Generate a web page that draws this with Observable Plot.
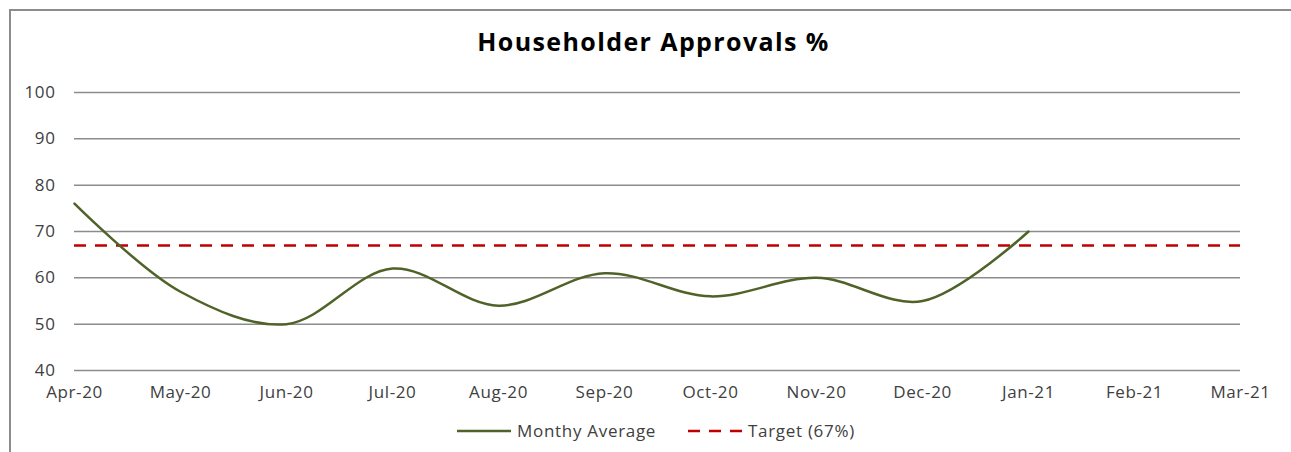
<!DOCTYPE html>
<html>
<head>
<meta charset="utf-8">
<script src="https://cdn.jsdelivr.net/npm/d3@7"></script>
<script src="https://cdn.jsdelivr.net/npm/@observablehq/plot@0.6"></script>
<style>
  html, body { margin: 0; padding: 0; background: #fff; }
  body { width: 1291px; height: 452px; position: relative; overflow: hidden; font-family: "Open Sans", sans-serif; }
  #frame { position: absolute; left: 9px; top: 9px; width: 1300px; height: 500px; border-left: 2px solid #8c8c8c; border-top: 2px solid #8c8c8c; }
  #title { position: absolute; left: 8px; width: 1291px; top: 24px; text-align: center; font-size: 25px; letter-spacing: 1.4px; font-weight: bold; color: #000; }
  #chart { position: absolute; left: 0; top: 0; }
  .legend { position: absolute; top: 419px; font-size: 17px; letter-spacing: 0.7px; color: #404040; display: flex; align-items: center; white-space: nowrap; }
  .legend svg { margin-right: 6px; }
</style>
</head>
<body>
<div id="frame"></div>
<div id="title">Householder Approvals %</div>
<div id="chart"></div>
<div class="legend" style="left:457px"><svg width="54" height="6"><line x1="0" x2="54" y1="3" y2="3" stroke="#4F6228" stroke-width="2.5"/></svg>Monthy Average</div>
<div class="legend" style="left:688px"><svg width="54" height="6"><line x1="0" x2="54" y1="3" y2="3" stroke="#C00000" stroke-width="2.5" stroke-dasharray="12,9"/></svg>Target (67%)</div>
<script>
const months = ["Apr-20","May-20","Jun-20","Jul-20","Aug-20","Sep-20","Oct-20","Nov-20","Dec-20","Jan-21","Feb-21","Mar-21"];
const monthlyAverage = [76, 57, 50, 62, 54, 61, 56, 60, 55, 70];
const target = 67;
const yTicks = [40, 50, 60, 70, 80, 90, 100];

const lineData = monthlyAverage.map((v, i) => ({month: months[i], value: v}));

const chart = Plot.plot({
  width: 1291,
  height: 410,
  marginTop: 92,
  marginBottom: 40,
  marginLeft: 74,
  marginRight: 51,
  style: {fontFamily: "'Open Sans', sans-serif", fontSize: "17px", letterSpacing: "0.6px", color: "#404040", background: "transparent", overflow: "visible"},
  x: {type: "point", domain: months, padding: 0, label: null},
  y: {domain: [40, 100], label: null},
  marks: [
    Plot.gridY(yTicks, {stroke: "#8c8c8c", strokeOpacity: 1, strokeWidth: 1.5}),
    Plot.ruleY([target], {stroke: "#C00000", strokeWidth: 2.5, strokeDasharray: "12,9"}),
    Plot.line(lineData, {x: "month", y: "value", curve: "catmull-rom", stroke: "#4F6228", strokeWidth: 2.5}),
    Plot.axisX(months, {tickSize: 0, tickPadding: 15, label: null}),
    Plot.axisY(yTicks, {tickSize: 0, tickPadding: 19, label: null})
  ]
});
document.getElementById("chart").appendChild(chart);
</script>
</body>
</html>
